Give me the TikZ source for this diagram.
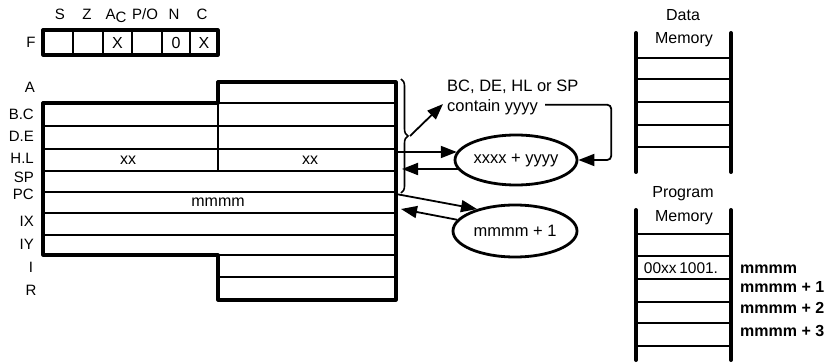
\documentclass[tikz,border=0pt]{standalone}
\usepackage{fontspec}
\setmainfont{Liberation Sans}
\usetikzlibrary{arrows.meta,shapes.geometric,decorations.pathreplacing}
\begin{document}
\begin{tikzpicture}[x=1pt,y=-1pt,
  outer/.style={line width=3.2pt, line join=round},
  inner/.style={line width=2.2pt},
  lbl/.style={font=\fontsize{15}{17}\selectfont, inner sep=0pt, anchor=base},
  lble/.style={font=\fontsize{15}{17}\selectfont, inner sep=0pt, anchor=base east},
  txt/.style={font=\fontsize{16}{18}\selectfont, inner sep=0pt, anchor=base},
  txtw/.style={font=\fontsize{16.5}{18}\selectfont, inner sep=0pt, anchor=base west},
  addr/.style={font=\fontsize{16}{18}\selectfont\bfseries, inner sep=0pt, anchor=base west},
  oval/.style={ellipse, draw, line width=2.8pt, inner sep=0pt, font=\fontsize{16.5}{18}\selectfont},
  arr/.style={line width=1.8pt, -{Triangle[length=16pt,width=12pt]}},
  membar/.style={line width=4pt, line cap=round},
  memline/.style={line width=2.8pt},
]
\useasboundingbox[fill=white] (0,0) rectangle (837,363);

% ---------- flag register ----------
\node[lbl] (fS)  at (60,20)  {S};
\node[lbl] (fZ)  at (87,20)  {Z};
\node[lbl] (fAC) at (116,20) {A\raisebox{-3pt}{C}};
\node[lbl] (fPO) at (145,20) {P/O};
\node[lbl] (fN)  at (174,20) {N};
\node[lbl] (fC)  at (202,20) {C};
\node[lbl] (fF)  at (31,48)  {F};
\draw[outer] (43,30) rectangle (218,55);
\foreach \x in {73,103,132,162,190} \draw[line width=2.6pt] (\x,30) -- (\x,55);
\node[txt] (c3) at (117.5,49) {X};
\node[txt] (c5) at (176,49) {0};
\node[txt] (c6) at (204,49) {X};

% ---------- register file ----------
\draw[outer] (43,103) -- (218,103) -- (218,82) -- (396,82) -- (396,300) -- (218,300) -- (218,255) -- (43,255) -- cycle;
\foreach \y in {126,149,171,192,213,235} \draw[inner] (43,\y) -- (396,\y);
\draw[inner] (218,103) -- (396,103);
\draw[inner] (218,255) -- (396,255);
\draw[inner] (218,277) -- (396,277);
\draw[inner] (218,103) -- (218,171);

\node[lbl]  (lA)  at (30,93)  {A};
\node[lble] (lBC) at (34,120) {B.C};
\node[lble] (lDE) at (34,142) {D.E};
\node[lble] (lHL) at (34,164) {H.L};
\node[lble] (lSP) at (34,183) {SP};
\node[lble] (lPC) at (34,200) {PC};
\node[lble] (lIX) at (34,226) {IX};
\node[lble] (lIY) at (34,250) {IY};
\node[lbl]  (lI)  at (31,272) {I};
\node[lbl]  (lR)  at (31,295) {R};

\node[txt] (hxl) at (128,165) {xx};
\node[txt] (hxr) at (310,165) {xx};
\node[txt] (pcm) at (218,207) {mmmm};

% brace over BC..SP
\draw[line width=1.6pt, decorate, decoration={brace, amplitude=7pt}] (401,79) -- (401,193);

% ---------- adders ----------
\node[oval, minimum width=122pt, minimum height=50pt] (e1) at (516,160) {xxxx + yyyy};
\node[oval, minimum width=124pt, minimum height=52pt] (e2) at (515,231) {mmmm + 1};

\node[txtw] (t1) at (447,92)  {BC, DE, HL or SP};
\node[txtw] (t2) at (447,112) {contain yyyy};

\coordinate (bt)    at (410,136);
\coordinate (bq)    at (443,104);
\coordinate (hlout) at (396,152);
\coordinate (hlin)  at (402,169);
\coordinate (pcout) at (396,194);
\coordinate (pcin)  at (401,209);

\draw[arr] (bt) -- (bq);
\draw[arr] (hlout) -- (hlout -| e1.172);
\draw[arr] (hlin -| e1.189) -- (hlin);
\draw[arr] (pcout) -- (e2.150);
\draw[arr] (e2.169) -- (pcin);
\draw[arr, rounded corners=4pt] ([xshift=7pt,yshift=3pt]t2.east) -- ++(66,0) |- (e1.east);

% ---------- data memory ----------
\node[txt] (dm1) at (683,21)   {Data};
\node[txt] (dm2) at (684,43.5) {Memory};
\foreach \y in {58,79,102,125,147} \draw[memline] (636,\y) -- (731,\y);
\draw[membar] (636,33) -- (636,172);
\draw[membar] (731,33) -- (731,172);

% ---------- program memory ----------
\node[txt] (pm1) at (683,198) {Program};
\node[txt] (pm2) at (684,222) {Memory};
\foreach \y in {234,256,279,302,323,346} \draw[memline] (636,\y) -- (731,\y);
\draw[membar] (636,210) -- (636,360);
\draw[membar] (731,210) -- (731,360);
\node[font=\fontsize{15.5}{17}\selectfont, inner sep=0pt, anchor=base] (op) at (681,273) {00xx\,1001.};

\node[addr] (a0) at (740,273)   {mmmm};
\node[addr] (a1) at (740,292)   {mmmm + 1};
\node[addr] (a2) at (740,313.5) {mmmm + 2};
\node[addr] (a3) at (740,336)   {mmmm + 3};
\end{tikzpicture}
\end{document}
